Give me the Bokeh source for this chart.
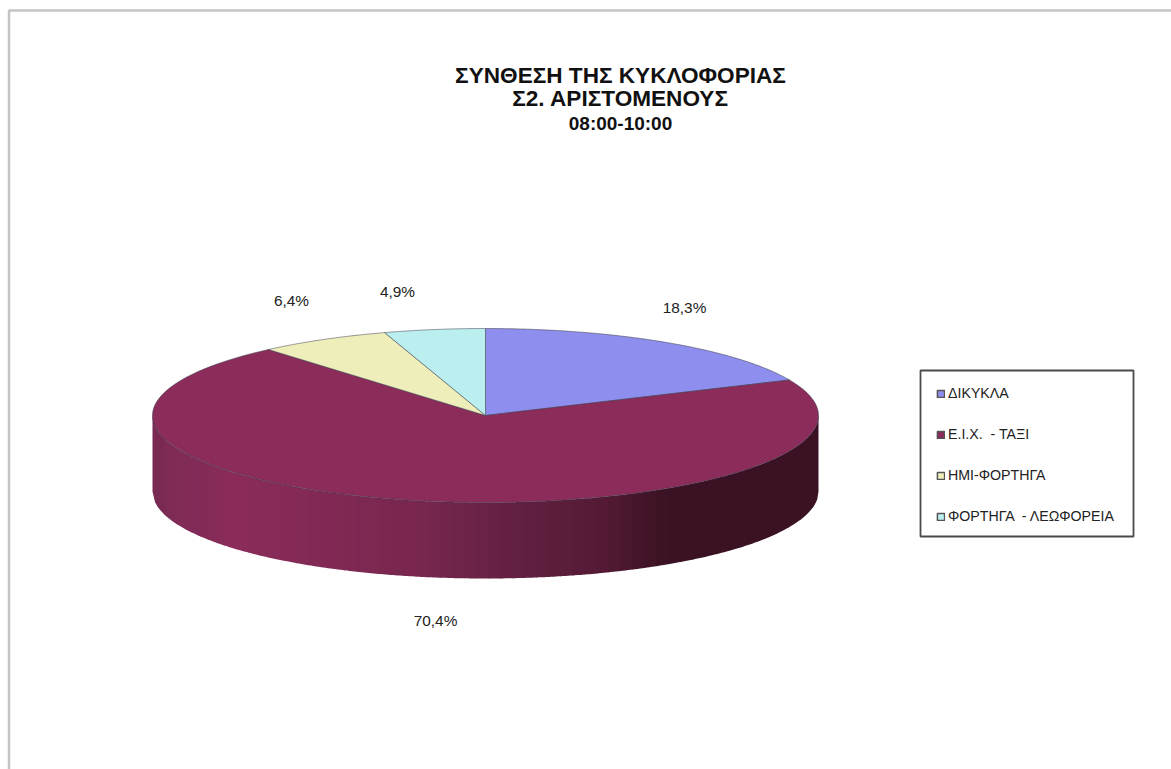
import numpy as np
from bokeh.plotting import figure
from bokeh.models import Range1d, Legend, LegendItem
from bokeh.core.properties import value
from bokeh.embed import file_html
from bokeh.resources import INLINE

categories = ["ΔΙΚΥΚΛΑ", "Ε.Ι.Χ.  - ΤΑΞΙ", "ΗΜΙ-ΦΟΡΤΗΓΑ", "ΦΟΡΤΗΓΑ  - ΛΕΩΦΟΡΕΙΑ"]
shares = [18.3, 70.4, 6.4, 4.9]
share_labels = ["18,3%", "70,4%", "6,4%", "4,9%"]
colors = ["#8e8eee", "#8b2c5b", "#eeeebb", "#bbeeee"]
title_lines = ["ΣΥΝΘΕΣΗ ΤΗΣ ΚΥΚΛΟΦΟΡΙΑΣ", "Σ2. ΑΡΙΣΤΟΜΕΝΟΥΣ", "08:00-10:00"]

W, H = 1171, 769
CX, CY, RX, RY, DEPTH = 485, 415, 333, 87, 76
FONT = "Liberation Sans"

p = figure(width=W, height=H, output_backend="svg", toolbar_location=None,
           x_range=Range1d(0, W), y_range=Range1d(H, 0),
           min_border=0, outline_line_color=None, background_fill_color="white")
p.axis.visible = False
p.grid.visible = False

# page frame
p.line([1171, 8.5, 8.5], [10, 10, 769], line_color="#c4c4c4", line_width=2.5)


def ell(theta):
    """theta clockwise from the top, in radians."""
    return CX + RX * np.sin(theta), CY - RY * np.cos(theta)


# side wall, drawn as thin strips with the Excel style shading
stops_x = [152, 165, 235, 420, 520, 600, 665, 818]
stops_r = [0x78, 0x7e, 0x8b, 0x78, 0x62, 0x55, 0x3b, 0x3a]
stops_g = [0x2a, 0x2b, 0x2c, 0x27, 0x20, 0x1b, 0x12, 0x12]
stops_b = [0x50, 0x56, 0x5b, 0x4e, 0x40, 0x36, 0x25, 0x23]
edges = np.arange(CX - RX, CX + RX + 12, 12.0)
edges[-1] = CX + RX
sx, sy, sc = [], [], []
for a, b in zip(edges[:-1], edges[1:]):
    xs = np.linspace(a, min(b + 0.7, CX + RX), 6)
    top = CY + RY * np.sqrt(np.clip(1 - ((xs - CX) / RX) ** 2, 0, 1))
    sx.append(np.r_[xs, xs[::-1]].tolist())
    sy.append(np.r_[top, (top + DEPTH)[::-1]].tolist())
    m = (a + b) / 2
    r, g, bl = (int(np.interp(m, stops_x, s)) for s in (stops_r, stops_g, stops_b))
    sc.append(f"#{r:02x}{g:02x}{bl:02x}")
p.patches(sx, sy, fill_color=sc, line_color=None)

# legend keys: heavier outline than the slices, hidden under the top face at the pie centre
keys = [p.patch([CX, CX, CX], [CY, CY, CY], fill_color=c, line_color="#555555", line_width=1.5)
        for c in colors]

# top face
cum = np.cumsum([0] + shares) / sum(shares) * 2 * np.pi
for i, c in enumerate(colors):
    t = np.linspace(cum[i], cum[i + 1], 120)
    x, y = ell(t)
    p.patch(np.r_[CX, x, CX], np.r_[CY, y, CY], fill_color=c,
            line_color="#3a3a4a", line_width=0.7, line_alpha=0.75)

# data labels
label_x = [684, 435, 291, 397]
label_y = [307, 620, 300, 291]
p.text(label_x, label_y, text=share_labels, text_font=value(FONT), text_font_size="15.4px",
       text_color="#222222", text_align="center", text_baseline="middle")

# title
p.text([620, 620, 620], [75, 98, 123], text=title_lines, text_font=value(FONT),
       text_font_style="bold", text_font_size=["22.6px", "22.6px", "19px"],
       text_color="#111111", text_align="center", text_baseline="middle")

# legend box
p.quad(left=[920], right=[1133], top=[370], bottom=[536], fill_color="white",
       line_color="#4a4a4a", line_width=1.8)

legend = Legend(items=[LegendItem(label=value(l), renderers=[r]) for l, r in zip(categories, keys)],
                location=(921, H - 539), orientation="vertical",
                label_text_font=FONT, label_text_font_size="14.2px", label_text_color="#222222",
                glyph_width=9, glyph_height=9, label_standoff=3, label_height=9, label_width=169,
                spacing=25, padding=15, margin=0,
                border_line_alpha=0, background_fill_alpha=0)
p.add_layout(legend, "center")

open("out.html", "w").write(file_html(p, INLINE))
